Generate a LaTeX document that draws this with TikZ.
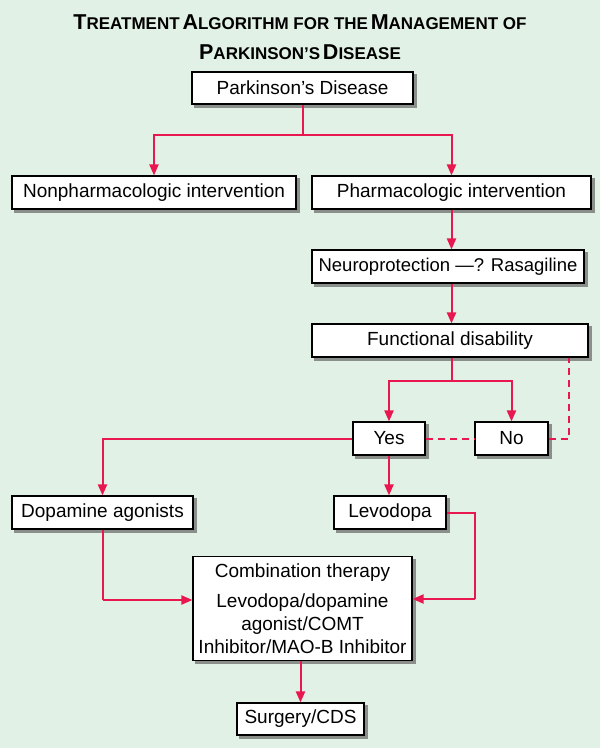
\documentclass[tikz,border=0pt]{standalone}
\usepackage{fontspec}
\setmainfont{Liberation Sans}
\usetikzlibrary{arrows.meta,backgrounds}
\definecolor{bgc}{HTML}{E2F1E5}
\definecolor{lnc}{HTML}{E8174F}
\definecolor{shc}{HTML}{8A8F8B}
\newcommand\tbig[1]{{\fontsize{21.5}{21.5}\selectfont #1}}
\newcommand\tsml[1]{{\fontsize{17}{17}\selectfont #1}}
\begin{document}
\begin{tikzpicture}[x=1pt,y=-1pt,
  box/.style={draw=black,line width=1.1pt,fill=white,inner sep=0pt,
    font=\fontsize{19}{23}\selectfont},
  conn/.style={draw=lnc,line width=2pt},
  arr/.style={conn,-{Triangle[length=11pt,width=9pt]}},
  dconn/.style={conn,dash pattern=on 7pt off 5pt},
  shadowfill/.style={fill=shc}]
\useasboundingbox (0,0) rectangle (600,748);
% title
\node[font=\bfseries,anchor=base] (t1) at (300,29) {\tbig{T}\tsml{REATMENT} \tbig{A}\tsml{LGORITHM FOR THE} \tbig{M}\tsml{ANAGEMENT OF}};
\node[font=\bfseries,anchor=base] (t2) at (300,59) {\tbig{P}\tsml{ARKINSON’S} \tbig{D}\tsml{ISEASE}};
% boxes
\node[box,minimum width=221pt,minimum height=32pt] (pd) at (302.5,88) {Parkinson’s Disease};
\node[box,minimum width=284pt,minimum height=33pt] (np) at (154,192.5) {Nonpharmacologic intervention};
\node[box,minimum width=279pt,minimum height=33pt] (ph) at (451.5,192.5) {Pharmacologic intervention};
\node[box,minimum width=272pt,minimum height=33pt,font=\fontsize{18.5}{22}\selectfont] (ne) at (448,266.5) {Neuroprotection —? Rasagiline};
\node[box,minimum width=276pt,minimum height=33pt] (fd) at (450,340.5) {Functional disability};
\node[box,minimum width=72pt,minimum height=33pt] (yes) at (389,438.5) {Yes};
\node[box,minimum width=73pt,minimum height=33pt] (no) at (511.5,438.5) {No};
\node[box,minimum width=181pt,minimum height=33pt] (da) at (102.5,512.5) {Dopamine agonists};
\node[box,minimum width=112pt,minimum height=33pt] (lv) at (390,512.5) {Levodopa};
\node[box,minimum width=219pt,minimum height=104pt,align=center] (ct) at (302.5,608.5)
  {Combination therapy\\[7.5pt]Levodopa/dopamine\\agonist/COMT\\Inhibitor/MAO-B Inhibitor};
\node[box,minimum width=127pt,minimum height=32pt] (sg) at (300.5,719) {Surgery/CDS};
% background and shadows
\begin{scope}[on background layer]
\fill[bgc] (0,0) rectangle (600,748);
\foreach \n in {pd,np,ph,ne,fd,yes,no,da,lv,ct,sg}{
  \fill[shadowfill] ([shift={(3,3)}]\n.north west) rectangle ([shift={(3,3)}]\n.south east);
}
\end{scope}
% connectors
\coordinate (j1) at (302.5,135);
\draw[conn] (pd.south) -- (j1);
\draw[arr] (j1) -| (np.north);
\draw[arr] (j1) -| (ph.north);
\draw[arr] (ph.south) -- (ph.south |- ne.north);
\draw[arr] (ne.south -| ph.south) -- (ph.south |- fd.north);
\coordinate (j2) at (451.5,381);
\draw[conn] (fd.south -| j2) -- (j2);
\draw[arr] (j2) -| (yes.north);
\draw[arr] (j2) -| (no.north);
\draw[arr] (yes.west) -| (da.north);
\draw[arr] (yes.south) -- (yes.south |- lv.north);
\draw[dconn] (yes.east) -- (no.west);
\coordinate (d1) at (569,438.5);
\draw[dconn] (no.east) -- (d1) -- (d1 |- fd.south);
\coordinate (c1) at (102.5,600);
\draw[conn] (da.south) -- (c1);
\draw[arr] (c1) -- (c1 -| ct.west);
\coordinate (c2) at (475,512.5);
\coordinate (c3) at (475,599);
\draw[conn] (lv.east) -- (c2) -- (c3);
\draw[arr] (c3) -- (c3 -| ct.east);
\draw[arr] (ct.south -| sg.north) -- (sg.north);
\end{tikzpicture}
\end{document}
